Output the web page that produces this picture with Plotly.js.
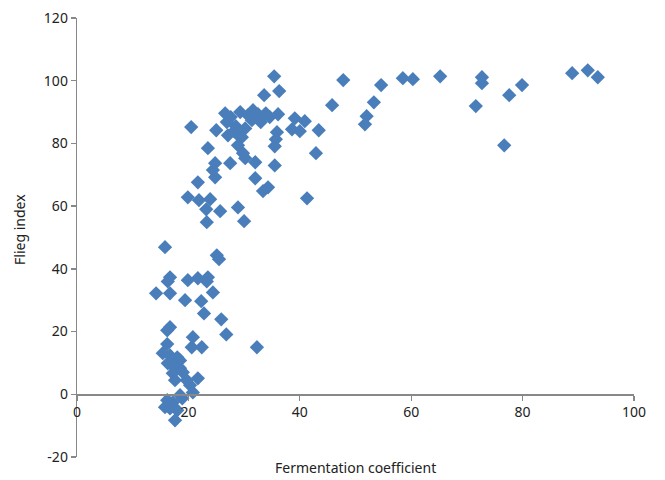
<!DOCTYPE html>
<html>
<head>
<meta charset="utf-8">
<script src="https://cdn.plot.ly/plotly-3.0.1.min.js"></script>
<style>html,body{margin:0;padding:0;background:#fff;}#chart{width:665px;height:480px;}</style>
</head>
<body>
<div id="chart"></div>
<script>
const fermentation = [
  35.4,36.3,33.6,20.5,25.0,26.6,27.6,29.3,26.9,28.5,27.1,29.3,31.6,32.5,33.9,31.4,33.0,34.6,36.1,39.1,40.9,38.6,40.0,43.4,35.9,35.7,35.5,30.2,29.6,29.8,28.9,30.2,32.0,27.5,23.5,24.8,24.4,24.8,21.7,32.0,34.3,33.4,35.5,42.9,41.3,19.9,21.9,23.9,23.2,25.7,28.9,23.3,30.0,30.7,28.2,
  88.9,91.7,93.5,79.9,77.6,76.7,71.6,72.7,72.7,65.2,60.3,58.5,54.6,53.3,52.0,51.7,47.8,45.8,
  15.8,25.1,25.5,16.7,16.3,19.9,21.7,23.5,23.3,14.2,16.7,19.4,22.3,24.4,22.8,25.9,16.7,16.2,26.8,20.8,32.3,
  20.6,22.4,16.2,15.4,16.7,18.0,18.5,16.3,17.1,18.5,19.0,17.2,17.6,19.7,21.7,20.3,20.8,18.5,16.2,17.2,18.9,15.8,16.7,18.0,17.6
];
const fliegIndex = [
  101.4,96.7,95.4,85.2,84.2,89.6,88.4,90.0,86.8,85.5,82.6,82.0,90.6,89.3,89.6,87.4,86.8,88.4,89.3,88.0,87.1,84.5,83.9,84.2,83.6,81.3,79.1,84.8,82.0,76.9,79.4,75.3,74.0,73.7,78.5,73.7,71.5,69.2,67.6,68.9,66.0,64.8,73.0,76.9,62.5,62.8,61.9,62.2,59.0,58.4,59.6,54.9,55.2,89.0,83.9,
  102.4,103.3,101.1,98.6,95.4,79.4,91.9,101.1,99.2,101.4,100.5,100.8,98.6,93.1,88.7,86.1,100.2,92.2,
  46.9,44.3,43.1,37.3,36.0,36.4,37.0,37.3,36.0,32.2,32.2,30.0,29.7,32.5,25.8,23.9,21.4,20.4,19.1,18.2,15.0,
  15.0,15.0,16.0,13.1,12.4,11.8,10.8,9.9,9.2,8.3,7.0,6.7,4.5,4.5,5.1,2.9,0.6,-0.3,-1.9,-2.6,-1.3,-4.1,-4.5,-5.1,-8.3
];
const xTicks = [0,20,40,60,80,100];
const yTicks = [-20,0,20,40,60,80,100,120];

const axisColor = '#888888';
const font = {family: 'Noto Sans, Open Sans, sans-serif', size: 14, color: '#222'};

Plotly.newPlot('chart', [{
  type: 'scatter', mode: 'markers',
  x: fermentation, y: fliegIndex,
  marker: {symbol: 'diamond', size: 11, color: '#4a7ebb', line: {width: 0}}
}], {
  width: 665, height: 480,
  margin: {l: 77, r: 31, t: 18, b: 23},
  paper_bgcolor: '#fff', plot_bgcolor: '#fff',
  showlegend: false,
  font: font,
  xaxis: {
    range: [0, 100], tickvals: xTicks, ticktext: xTicks.map(String),
    anchor: 'free', position: 20/140,
    showgrid: false, zeroline: false, showline: true, linecolor: axisColor, linewidth: 1.3,
    ticks: 'outside', ticklen: 5, tickcolor: axisColor, tickwidth: 1.3,
    tickfont: font, fixedrange: true
  },
  yaxis: {
    range: [-20, 120], tickvals: yTicks, ticktext: yTicks.map(String),
    showgrid: false, zeroline: false, showline: true, linecolor: axisColor, linewidth: 1.3,
    ticks: 'outside', ticklen: 5, tickcolor: axisColor, tickwidth: 1.3,
    tickfont: font, fixedrange: true
  },
  annotations: [
    {text: 'Fermentation coefficient', xref: 'paper', yref: 'paper', x: 0.5, y: -0.025,
     xanchor: 'center', yanchor: 'middle', showarrow: false, font: font},
    {text: 'Flieg index', xref: 'paper', yref: 'paper', x: (20-77)/557, y: (457-230)/439,
     xanchor: 'center', yanchor: 'middle', textangle: -90, showarrow: false, font: font}
  ]
}, {staticPlot: true});
</script>
</body>
</html>
